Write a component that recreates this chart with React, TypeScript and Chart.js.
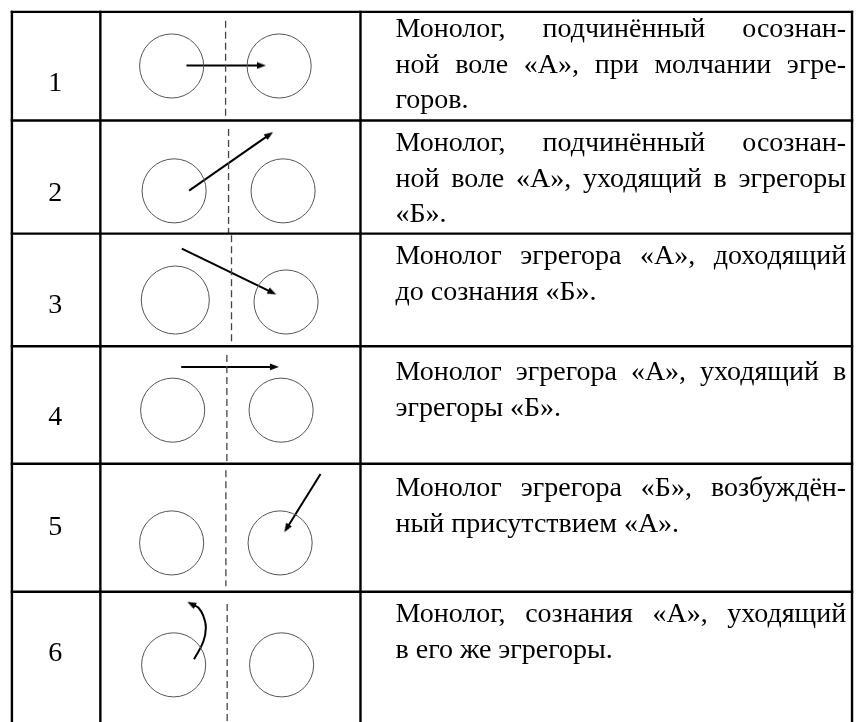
import React, { useEffect, useRef } from 'react';
import { Chart, registerables } from 'chart.js';

Chart.register(...registerables);

// ---- table structure (data units = page pixels) ----
const rowNumbers = ['1', '2', '3', '4', '5', '6'];
const rowEdges = [6, 116.5, 231.5, 346, 465.5, 595.7, 740];
const columnEdges = [6, 95.7, 359.5, 858];
const numberCenterX = 50;
const numberCenterY = [77, 189, 303, 416, 528, 656];

const descriptionLines = [
  ['Монолог, подчинённый осознан-', 'ной воле «А», при молчании эгре-', 'горов.'],
  ['Монолог, подчинённый осознан-', 'ной воле «А», уходящий в эгрегоры', '«Б».'],
  ['Монолог эгрегора «А», доходящий', 'до сознания «Б».'],
  ['Монолог эгрегора «А», уходящий в', 'эгрегоры «Б».'],
  ['Монолог эгрегора «Б», возбуждён-', 'ный присутствием «А».'],
  ['Монолог, сознания «А», уходящий', 'в его же эгрегоры.'],
];
const firstLineCenterY = [22, 138, 253, 371, 489, 617];
const lineStep = 36.3;
const textLeft = 395;
const textRight = 852;

// ---- diagram contents ----
const leftCircleX = [168, 170.5, 171.7, 169, 168, 170];
const leftCircleY = [61, 188, 299, 411, 546, 670];
const leftCircleR = [32.5, 32.5, 34.5, 32.5, 32.5, 32.5];
const rightCircleX = [277, 281, 284, 279, 278, 279.5];
const rightCircleY = [61, 188, 301, 411, 546, 670];
const rightCircleR = [32.5, 32.5, 32.5, 32.5, 32.5, 32.5];

const dividerX = [222.7, 225.7, 228.7, 224, 223, 224.3];
const dividerTop = [15, 125, 233, 355, 472, 608];
const dividerBottom = [116.5, 231.5, 346, 465.5, 590, 740];

const arrowPaths: number[][][] = [
  [[183, 60.5], [263.5, 60.5]],
  [[185.7, 187.7], [270.7, 128.3]],
  [[178.3, 246.7], [274, 293.3]],
  [[177.7, 367], [276.7, 367]],
  [[319, 476], [282.3, 535]],
  [[190.7, 664.3], [200, 646.7], [202.7, 631.7], [200, 620], [195, 611.7], [184, 606]],
];

const HEAD_LEN = 9;
const FONT_PX = 28;

function makeArrowHead(): HTMLCanvasElement {
  const c = document.createElement('canvas');
  c.width = 8;
  c.height = HEAD_LEN * 2;
  const g = c.getContext('2d')!;
  g.fillStyle = '#000';
  g.beginPath();
  g.moveTo(4, 0);
  g.lineTo(7.4, HEAD_LEN);
  g.lineTo(0.6, HEAD_LEN);
  g.closePath();
  g.fill();
  return c;
}

const textPlugin = {
  id: 'tableText',
  afterDatasetsDraw(chart: any) {
    const { ctx } = chart;
    const xs = chart.scales.x;
    const ys = chart.scales.y;
    ctx.save();
    ctx.fillStyle = '#000';
    ctx.textBaseline = 'alphabetic';
    ctx.font = FONT_PX + 'px "Liberation Serif", "Times New Roman", serif';
    // row numbers
    ctx.textAlign = 'center';
    rowNumbers.forEach((n, i) => {
      ctx.fillText(n, xs.getPixelForValue(numberCenterX), ys.getPixelForValue(numberCenterY[i]) + FONT_PX * 0.338);
    });
    // descriptions (justified except last line)
    ctx.textAlign = 'left';
    const left = xs.getPixelForValue(textLeft);
    const right = xs.getPixelForValue(textRight);
    descriptionLines.forEach((lines, r) => {
      lines.forEach((line, li) => {
        const yPix = ys.getPixelForValue(firstLineCenterY[r] + li * lineStep) + FONT_PX * 0.331;
        const isLast = li === lines.length - 1;
        if (isLast) {
          ctx.fillText(line, left, yPix);
          return;
        }
        const words = line.split(' ');
        const widths = words.map((w) => ctx.measureText(w).width);
        const total = widths.reduce((a, b) => a + b, 0);
        const gap = words.length > 1 ? (right - left - total) / (words.length - 1) : 0;
        let cx = left;
        words.forEach((w, wi) => {
          ctx.fillText(w, cx, yPix);
          cx += widths[wi] + gap;
        });
      });
    });
    ctx.restore();
  },
};

export default function App() {
  const ref = useRef<HTMLCanvasElement | null>(null);

  useEffect(() => {
    if (!ref.current) return;
    const head = makeArrowHead();
    const datasets: any[] = [];

    const seg = (pts: number[][], color: string, width: number, dash: number[] = [], tension = 0) => ({
      type: 'line',
      data: pts.map(([x, y]) => ({ x, y })),
      borderColor: color,
      borderWidth: width,
      borderDash: dash,
      borderCapStyle: 'butt',
      pointRadius: 0,
      fill: false,
      tension,
      clip: false,
    });

    // table grid
    rowEdges.slice(0, -1).forEach((y) => {
      datasets.push(seg([[columnEdges[0] - 1.2, y], [columnEdges[3] + 1.2, y]], '#000', 2.4));
    });
    columnEdges.forEach((x) => {
      datasets.push(seg([[x, rowEdges[0] - 1.2], [x, rowEdges[rowEdges.length - 1]]], '#000', 2.4));
    });

    // dashed dividers
    dividerX.forEach((x, i) => {
      datasets.push(seg([[x, dividerTop[i]], [x, dividerBottom[i]]], '#444', 1.3, [7, 4]));
    });

    // circles
    const circles = [
      ...leftCircleX.map((x, i) => ({ x, y: leftCircleY[i], r: leftCircleR[i] })),
      ...rightCircleX.map((x, i) => ({ x, y: rightCircleY[i], r: rightCircleR[i] })),
    ];
    datasets.push({
      type: 'scatter',
      data: circles.map((c) => ({ x: c.x, y: c.y })),
      showLine: false,
      pointStyle: 'circle',
      pointRadius: (ctx: any) => {
        const s = ctx.chart.scales.x;
        const c = circles[ctx.dataIndex];
        return c ? s.getPixelForValue(c.r) - s.getPixelForValue(0) : 0;
      },
      pointBackgroundColor: 'rgba(0,0,0,0)',
      pointBorderColor: '#555',
      pointBorderWidth: 1,
      clip: false,
    });

    // arrows
    const headPts: any[] = [];
    const headRot: number[] = [];
    arrowPaths.forEach((path) => {
      const tip = path[path.length - 1];
      const prev = path[path.length - 2];
      const dx = tip[0] - prev[0];
      const dy = tip[1] - prev[1];
      const len = Math.hypot(dx, dy);
      const ux = dx / len;
      const uy = dy / len;
      const base = [tip[0] - ux * HEAD_LEN, tip[1] - uy * HEAD_LEN];
      const lineEnd = [base[0] + ux * 2, base[1] + uy * 2];
      const body = path.length > 2 ? [...path.slice(0, -1), lineEnd] : [path[0], lineEnd];
      datasets.push(seg(body, '#000', 2, [], path.length > 2 ? 0.4 : 0));
      headPts.push({ x: base[0], y: base[1] });
      headRot.push((Math.atan2(dy, dx) * 180) / Math.PI + 90);
    });
    datasets.push({
      type: 'scatter',
      data: headPts,
      showLine: false,
      pointStyle: head,
      pointRadius: 5,
      rotation: (ctx: any) => headRot[ctx.dataIndex] || 0,
      clip: false,
    });

    const chart = new Chart(ref.current, {
      type: 'scatter',
      data: { datasets },
      options: {
        animation: false,
        responsive: false,
        events: [],
        layout: { padding: 0 },
        scales: {
          x: { type: 'linear', min: 0, max: 860, display: false },
          y: { type: 'linear', min: 0, max: 722, reverse: true, display: false },
        },
        plugins: {
          legend: { display: false },
          tooltip: { enabled: false },
          title: { display: false },
        },
      },
      plugins: [textPlugin],
    } as any);

    return () => chart.destroy();
  }, []);

  return (
    <div style={{ position: 'absolute', left: 0, top: 0, width: 860, height: 722, background: '#fff' }}>
      <canvas ref={ref} width={860} height={722} style={{ width: 860, height: 722, display: 'block' }} />
    </div>
  );
}
